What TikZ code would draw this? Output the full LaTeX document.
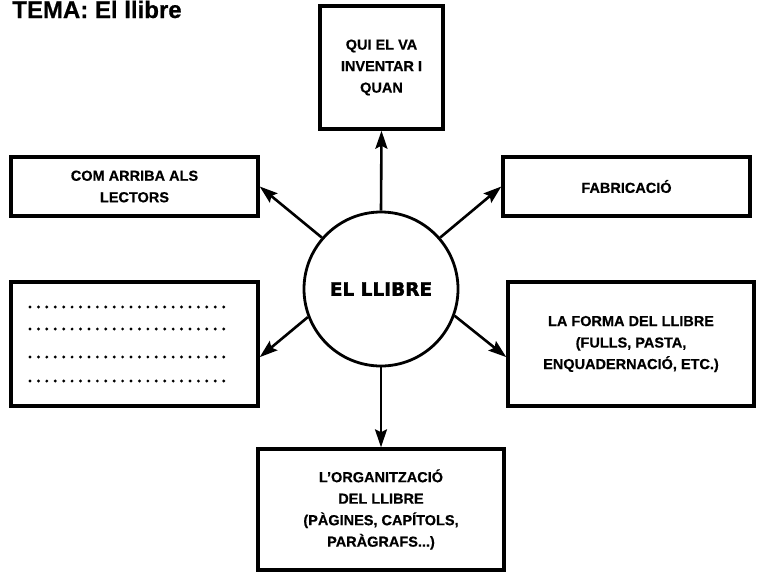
\documentclass[tikz,border=0pt]{standalone}
\usepackage{fontspec}
\setmainfont{Liberation Sans}[BoldFeatures={FakeBold=0.6}]
\newfontfamily\heavyfont[BoldFeatures={FakeBold=2}]{DejaVu Sans}
\usetikzlibrary{arrows.meta}

\begin{document}
\begin{tikzpicture}[x=1pt,y=-1pt,>={Stealth[length=18pt,width=12pt,inset=3pt]},line width=2.6pt,
    caixa/.style={draw,line width=3.4pt,align=center,inner sep=0pt,
      font=\fontsize{14.5}{21.5}\selectfont\bfseries}]
  \useasboundingbox (0,0) rectangle (759,571);
  % title
  \node[anchor=base west,inner sep=0pt,font=\fontsize{24}{26}\selectfont\bfseries]
    (tema) at (11,18) {TEMA: El llibre};

  % central circle
  \node[draw,circle,minimum size=154pt,inner sep=0pt,line width=2.8pt,
    font=\fontsize{18.5}{20}\selectfont\heavyfont\bfseries] (llibre) at (381,289) {EL LLIBRE};

  % boxes round it
  \node[caixa,minimum width=123pt,minimum height=123pt] (qui) at (381.5,67.5)
    {QUI EL VA\\INVENTAR I\\QUAN};
  \node[caixa,minimum width=247pt,minimum height=59pt] (lectors) at (134.5,186.5)
    {COM ARRIBA ALS\\LECTORS};
  \node[caixa,minimum width=247pt,minimum height=59pt] (fabric) at (626.5,186.5)
    {FABRICACIÓ};
  \node[caixa,minimum width=247pt,minimum height=124pt] (punts) at (134.5,344) {};
  \node[caixa,minimum width=246pt,minimum height=124pt] (forma) at (631,344)
    {LA FORMA DEL LLIBRE\\(FULLS, PASTA,\\ENQUADERNACIÓ, ETC.)};
  \node[caixa,minimum width=246pt,minimum height=121pt] (organ) at (381,509.5)
    {L’ORGANITZACIÓ\\DEL LLIBRE\\(PÀGINES, CAPÍTOLS,\\PARÀGRAFS...)};

  % dotted lines to fill in
  \foreach \y in {307,329,357,381}
  {
    \draw[line width=3.2pt,line cap=round,dash pattern=on 0pt off 8.42pt] (30,\y) -- (232,\y);
  }

  % arrows
  \foreach \from/\to in {llibre.north/qui.south,
    llibre.139/lectors.east,
    llibre.41/fabric.west,
    llibre.201/punts.-6,
    llibre.-20/forma.186,
    llibre.south/organ.north}
  {
    \draw[->] (\from) -- (\to);
  }
\end{tikzpicture}
\end{document}
